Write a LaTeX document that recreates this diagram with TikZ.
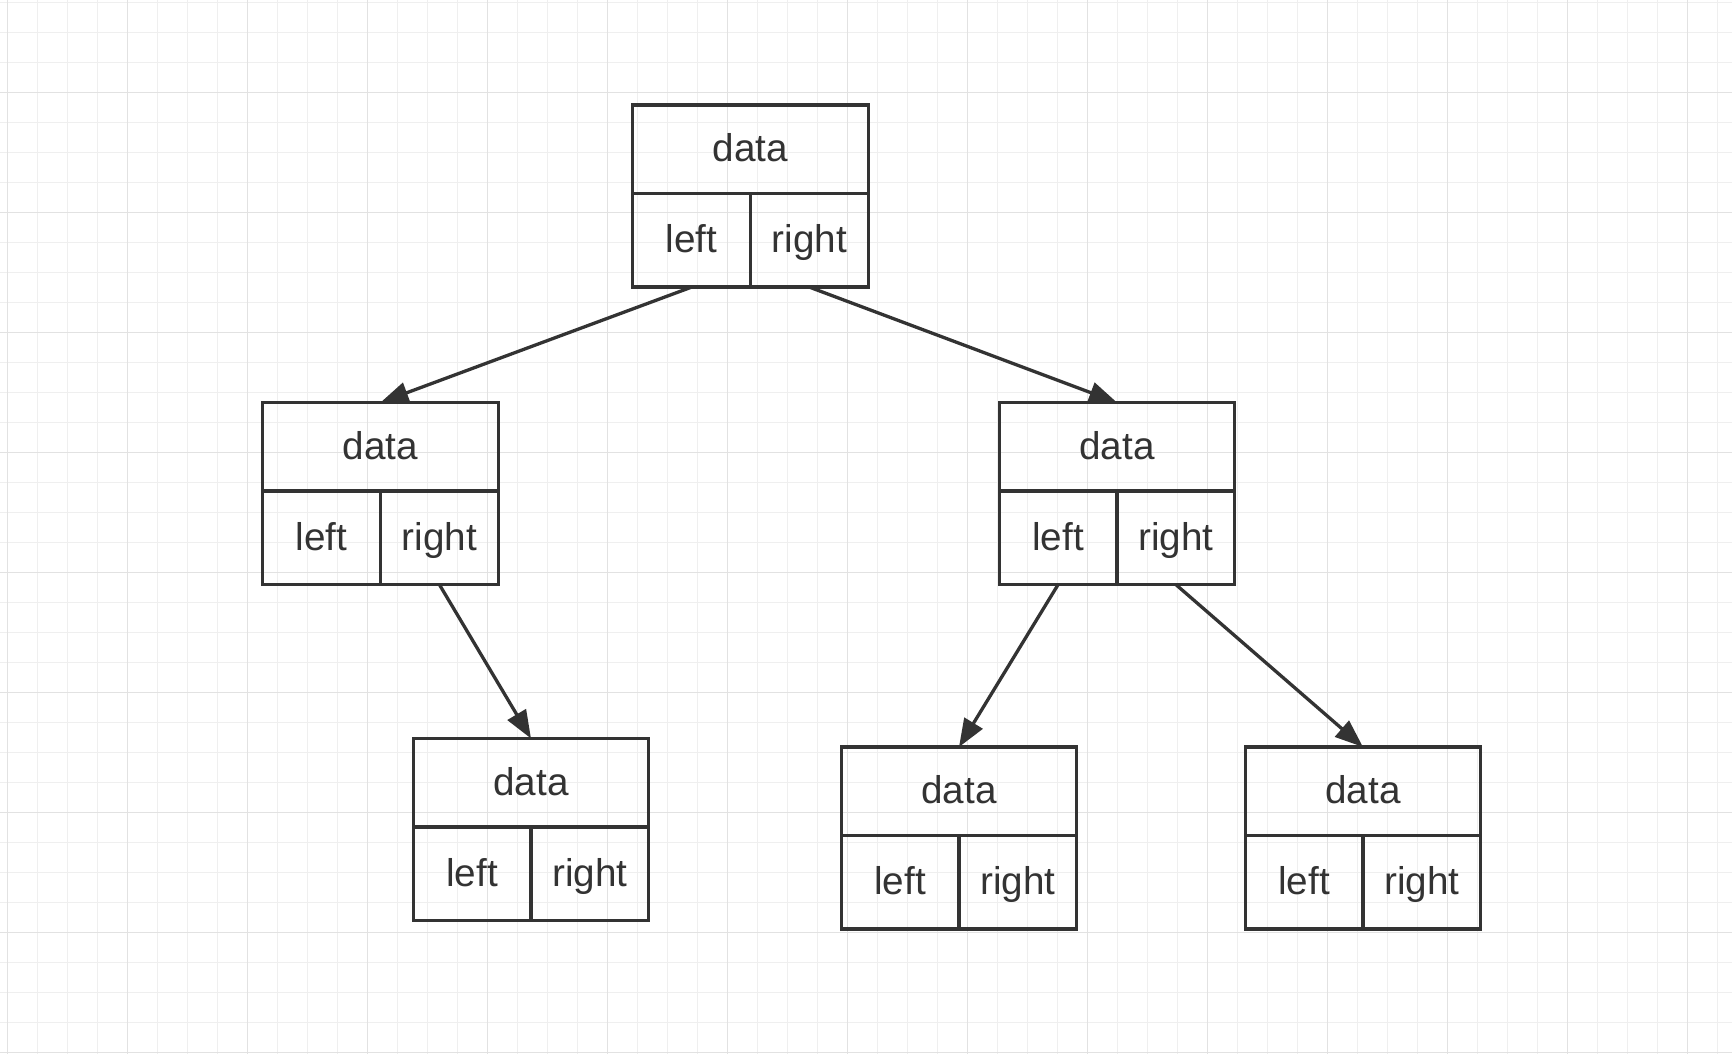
\documentclass[tikz,border=0pt]{standalone}
\usepackage{fontspec}
\setmainfont{Liberation Sans}
\usetikzlibrary{positioning, arrows.meta}
\definecolor{ink}{HTML}{333333}
\definecolor{gridlo}{HTML}{EFEFEF}
\definecolor{gridhi}{HTML}{E2E2E2}
\newcommand{\treebox}[3]{%
\node[datacell] (#1) at (#2,#3) {data};
\node[ptrcell, below right=0pt of #1.south west] (#1l) {left};
\node[ptrcell, below left=0pt of #1.south east] (#1r) {right};
}

\begin{document}
\begin{tikzpicture}[x=0.01cm,y=-0.01cm,
  datacell/.style={draw=ink,line width=0.033cm,anchor=north,inner sep=0pt,outer sep=0pt,
    minimum width=2.355cm,minimum height=0.885cm,text=ink,
    font=\fontsize{11pt}{13pt}\selectfont,text height=0.72em,text depth=0pt},
  ptrcell/.style={datacell,minimum width=1.1775cm,minimum height=0.935cm},
  link/.style={ink,line width=0.033cm,-{Triangle[length=0.28cm,width=0.21cm]}}]
\useasboundingbox (0,0) rectangle (1732,1054);
\fill[white] (0,0) rectangle (1732,1054);
% grid paper
\foreach \gx in {7.5,37.5,...,1717.5} \draw[gridlo,line width=0.012cm] (\gx,0) -- (\gx,1054);
\foreach \gy in {2.7,32.7,...,1052.7} \draw[gridlo,line width=0.012cm] (0,\gy) -- (1732,\gy);
\foreach \gx in {7.5,127.5,...,1687.5} \draw[gridhi,line width=0.015cm] (\gx,0) -- (\gx,1054);
\foreach \gy in {92.7,212.7,...,1052.7} \draw[gridhi,line width=0.015cm] (0,\gy) -- (1732,\gy);
% tree
\treebox{n1}{750.5}{105}
\treebox{n2}{380.5}{402.5}
\treebox{n3}{1117}{402.5}
\treebox{n4}{531}{738.5}
\treebox{n5}{959}{747}
\treebox{n6}{1363}{747}
\draw[link] (n1l.south) -- (n2.north);
\draw[link] (n1r.south) -- (n3.north);
\draw[link] (n2r.south) -- (n4.north);
\draw[link] (n3l.south) -- (n5.north);
\draw[link] (n3r.south) -- (n6.north);
\end{tikzpicture}
\end{document}
